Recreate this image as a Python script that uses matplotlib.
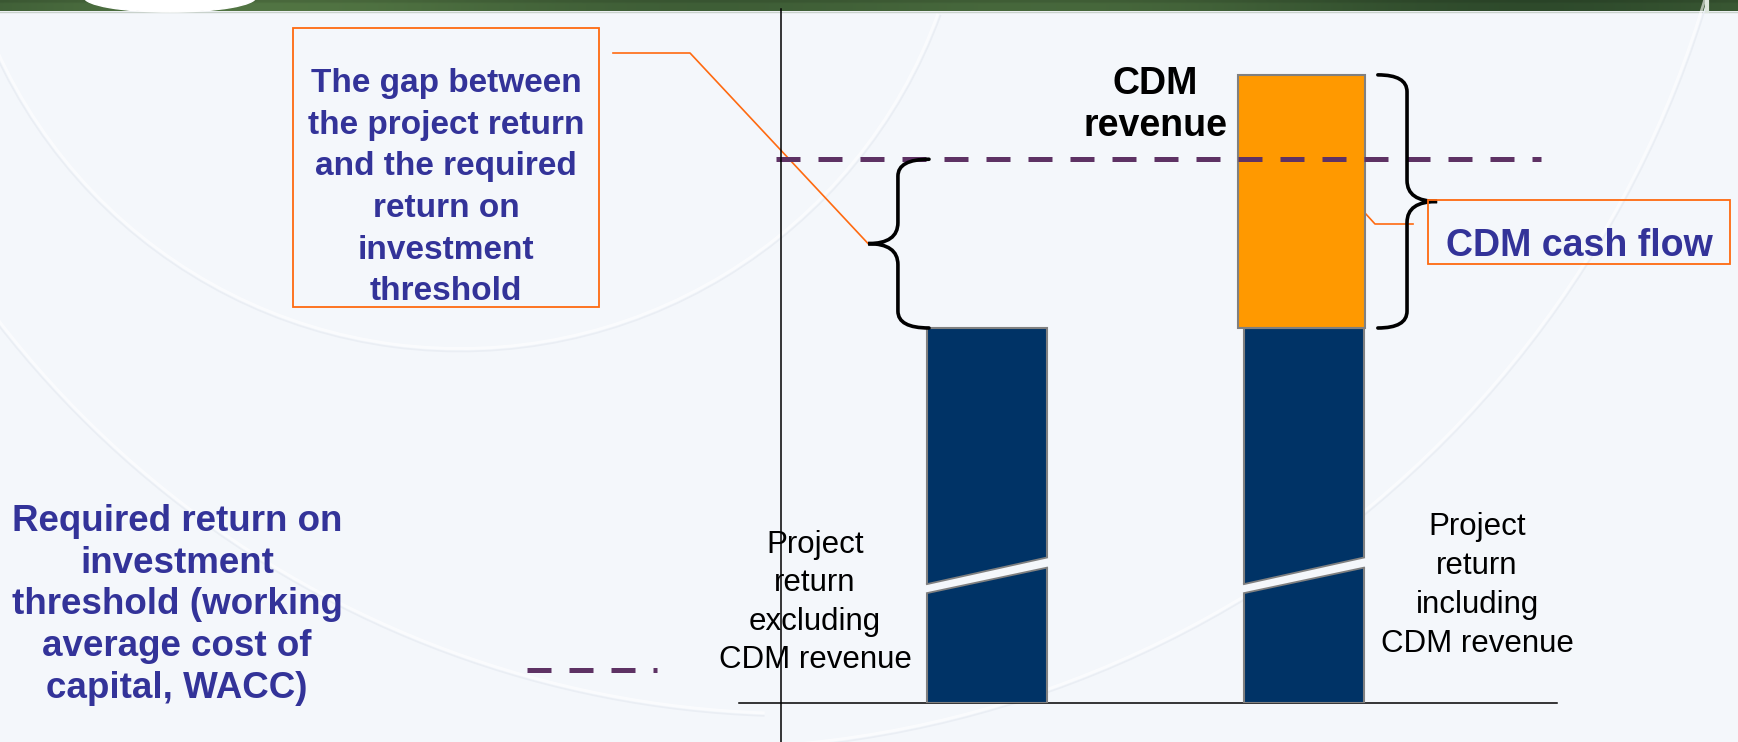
import numpy as np
import matplotlib
matplotlib.use("Agg")
import matplotlib.pyplot as plt
from matplotlib.path import Path
from matplotlib.patches import PathPatch, Rectangle, Polygon, Ellipse, Arc
from matplotlib.font_manager import FontProperties

# ---------------- data ----------------
category_labels = ["Project\nreturn\nexcluding\nCDM revenue",
                   "Project\nreturn\nincluding\nCDM revenue"]
project_return = [10.0, 10.0]       # arbitrary return units
cdm_revenue = [0.0, 6.75]
wacc_threshold = 14.5
gap_label = ("The gap between\nthe project return\nand the required\n"
             "return on\ninvestment\nthreshold")
wacc_label = ("Required return on\ninvestment\nthreshold (working\n"
              "average cost of\ncapital, WACC)")
cdm_revenue_label = "CDM\nrevenue"
cdm_cashflow_label = "CDM cash flow"

# ---------------- style / layout ----------------
W, H, DPI = 1738, 742, 100
BG = "#F4F7FB"
NAVY = "#003366"
ORANGE = "#FF9900"
EDGE = "#808080"
PURPLE = "#5E3264"
BLUE = "#333399"
BOXC = "#FF6A10"
FONT = "Liberation Sans"

fig = plt.figure(figsize=(W / DPI, H / DPI), dpi=DPI)
fig.patch.set_facecolor(BG)


def px_axes(z):
    a = fig.add_axes([0, 0, 1, 1], zorder=z)
    a.set_xlim(0, W)
    a.set_ylim(H, 0)
    a.axis("off")
    return a


# ---------- background decoration ----------
bg = px_axes(0)
t = np.linspace(0, 1, 400)
c1 = np.array([0.18, 0.29, 0.17])
c2 = np.array([0.33, 0.47, 0.27])
mix = 0.5 + 0.5 * np.sin(t * 9.0) * np.cos(t * 3.3)
row = c1[None, :] * (1 - mix[:, None]) + c2[None, :] * mix[:, None]
img = np.repeat(row[None, :, :], 4, axis=0)
img[0] *= 0.9
bg.imshow(img, extent=(0, W, 11, 0), aspect="auto", zorder=1)
bg.plot([0, W], [11.5, 11.5], color="#C9D2CC", lw=1, zorder=1)
bg.add_patch(Ellipse((170, -3), 172, 30, color="white", zorder=2))
bg.plot([1707, 1707], [0, 11], color="#DDE6DD", lw=3, zorder=2)
for (cx, cy, r, a1, a2) in [(700, -300, 1050, 8, 95),
                            (800, -300, 1015, 92, 165),
                            (460, -160, 510, 20, 175)]:
    bg.add_patch(Arc((cx, cy), 2 * r + 3, 2 * r + 3, theta1=a1, theta2=a2,
                     color="#EAEEF4", lw=1.2, zorder=1))
    bg.add_patch(Arc((cx, cy), 2 * r - 3, 2 * r - 3, theta1=a1, theta2=a2,
                     color="white", lw=2.0, alpha=0.6, zorder=1))
bg.set_xlim(0, W)
bg.set_ylim(H, 0)

# ---------- main chart axes ----------
PX, PY = 317.0, 37.5          # pixels per data unit
X0_PX, BASE_PX = 987.0, 703.0  # pixel of x=0 and y=0
ax = fig.add_axes([739 / W, (H - BASE_PX) / H, 818 / W, BASE_PX / H], zorder=2)
ax.set_xlim((739 - X0_PX) / PX, (1557 - X0_PX) / PX)
ax.set_ylim(0, BASE_PX / PY)
ax.patch.set_alpha(0)
for s in ["top", "right", "left"]:
    ax.spines[s].set_visible(False)
ax.spines["bottom"].set_linewidth(1.1)
ax.set_xticks([])
ax.set_yticks([])


def to_px(x, y):
    return X0_PX + x * PX, BASE_PX - y * PY


x = np.arange(len(category_labels))
BW = 0.379
ax.bar(x, project_return, width=BW, color=NAVY, edgecolor=EDGE,
       linewidth=1.5, zorder=3)
for xi, base, extra in zip(x, project_return, cdm_revenue):
    if extra > 0:
        ax.bar(xi - 0.008, extra, bottom=base, width=0.40, color=ORANGE,
               edgecolor=EDGE, linewidth=1.5, zorder=3)

# slanted break in the bars
lo_l, lo_r, hi_l, hi_r = 2.93, 3.61, 3.17, 3.88
slope = (lo_r - lo_l) / BW
for xi in x:
    l, r = xi - BW / 2, xi + BW / 2
    e = 0.012
    ax.add_patch(Polygon([(l - e, lo_l - slope * e), (r + e, lo_r + slope * e),
                          (r + e, hi_r + slope * e), (l - e, hi_l - slope * e)],
                         closed=True, facecolor=BG, edgecolor="none", zorder=4))
    ax.plot([l, r], [lo_l, lo_r], color=EDGE, lw=1.3, zorder=5)
    ax.plot([l, r], [hi_l, hi_r], color=EDGE, lw=1.3, zorder=5)

# WACC threshold dashed line
ax.plot([(776 - X0_PX) / PX, (1541 - X0_PX) / PX], [wacc_threshold] * 2,
        color=PURPLE, lw=3.6, dashes=(4.8, 3.6), dash_capstyle="butt",
        zorder=6, clip_on=False)


def brace(a, x_end, x_spine, x_tip, y_lo, y_hi, r_end, r_mid):
    ym = (y_lo + y_hi) / 2
    verts = [(x_end, y_hi), (x_spine, y_hi), (x_spine, y_hi - r_end),
             (x_spine, ym + r_mid), (x_spine, ym), (x_tip, ym),
             (x_spine, ym), (x_spine, ym - r_mid),
             (x_spine, y_lo + r_end), (x_spine, y_lo), (x_end, y_lo)]
    codes = [Path.MOVETO, Path.CURVE3, Path.CURVE3, Path.LINETO,
             Path.CURVE3, Path.CURVE3, Path.CURVE3, Path.CURVE3,
             Path.LINETO, Path.CURVE3, Path.CURVE3]
    a.add_patch(PathPatch(Path(verts, codes), facecolor="none",
                          edgecolor="black", lw=2.6, capstyle="round",
                          zorder=7, clip_on=False))
    return x_tip, ym


tipL = brace(ax, -0.183, -0.281, -0.375, project_return[0], wacc_threshold, 0.45, 0.56)
tipR = brace(ax, 1.233, 1.325, 1.42, project_return[1],
             project_return[1] + cdm_revenue[1], 0.45, 0.56)

# connectors (under the chart)
tlx, tly = to_px(*tipL)
bg.plot([613, 690, tlx], [53, 53, tly], color=BOXC, lw=1.2, zorder=3)
bg.plot([1365, 1375, 1413], [213, 224, 224], color=BOXC, lw=1.2, zorder=3)

# ---------- foreground overlay ----------
fg = px_axes(5)
renderer = fig.canvas.get_renderer()
STEP_FIX = 0.845


def ml_text(a, xx, yy, s, size, step, weight="normal", color="black", va="top"):
    fp = FontProperties(family=FONT, size=size, weight=weight)
    _, h, d = renderer.get_text_width_height_descent("lp", fp, ismath=False)
    a.text(xx, yy, s, fontproperties=fp, color=color, ha="center", va=va,
           multialignment="center", linespacing=STEP_FIX * step / (h - d))


# vertical reference line
fg.plot([781, 781], [9, H], color="black", lw=1.1)

# gap explanation box
fg.add_patch(Rectangle((293, 28), 306, 279, facecolor="none",
                       edgecolor=BOXC, lw=1.3))
ml_text(fg, 446, 68, gap_label, 24, 41.0, weight="bold", color=BLUE)

# CDM cash flow box
fg.add_patch(Rectangle((1428, 200), 302, 64, facecolor="none",
                       edgecolor=BOXC, lw=1.3))
fg.text(1579, 256, cdm_cashflow_label, fontfamily=FONT, fontsize=27,
        fontweight="bold", color=BLUE, ha="center", va="baseline")

# CDM revenue label
ml_text(fg, 1155, 66, cdm_revenue_label, 27, 40, weight="bold", color="black")

# WACC legend text and sample
ml_text(fg, 177, 504, wacc_label, 26.5, 39.8, weight="bold", color=BLUE)
fg.plot([527, 657], [670, 670], color=PURPLE, lw=3.6, dashes=(4.8, 3.6),
        dash_capstyle="butt")

# bar category labels
ml_text(fg, 815, 530, category_labels[0], 22.5, 37.2)
ml_text(fg, 1477, 512, category_labels[1], 22.5, 38.0)

fig.savefig("out.png", dpi=DPI, facecolor=BG)
